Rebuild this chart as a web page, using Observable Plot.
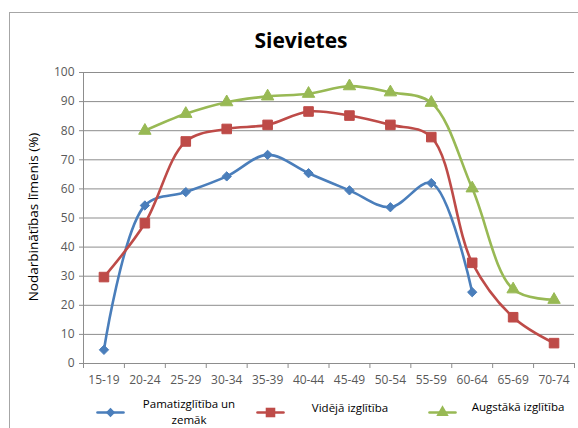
<!DOCTYPE html>
<html>
<head>
<meta charset="utf-8">
<script src="https://cdn.jsdelivr.net/npm/d3@7"></script>
<script src="https://cdn.jsdelivr.net/npm/@observablehq/plot@0.6"></script>
<style>
  html, body { margin: 0; padding: 0; background: #fff; }
  #wrap { position: relative; width: 578px; height: 428px; overflow: hidden; font-family: "Open Sans", sans-serif; }
  #frame { position: absolute; left: 9px; top: 12px; width: 600px; height: 500px; border-left: 1.5px solid #a6a6a6; border-top: 1.5px solid #a6a6a6; }
  #title { position: absolute; left: 0; width: 602px; top: 26px; text-align: center; font-weight: bold; font-size: 21px; color: #000; }
  #chart { position: absolute; left: 0; top: 0; }
  .leg { position: absolute; font-size: 11.5px; color: #000; text-align: center; line-height: 16px; }
  .sw { position: absolute; }
</style>
</head>
<body>
<div id="wrap">
  <div id="frame"></div>
  <div id="chart"></div>
  <div id="title">Sievietes</div>
</div>
<script>
const ageGroups = ["15-19","20-24","25-29","30-34","35-39","40-44","45-49","50-54","55-59","60-64","65-69","70-74"];
const seriesNames = ["Pamatizglītība un zemāk", "Vidējā izglītība", "Augstākā izglītība"];
const basicEdu     = [4.7, 54.3, 58.9, 64.3, 71.7, 65.4, 59.5, 53.7, 62.0, 24.5, null, null];
const secondaryEdu = [29.7, 48.2, 76.3, 80.6, 82.0, 86.6, 85.2, 82.0, 77.8, 34.6, 15.9, 7.0];
const higherEdu    = [null, 80.0, 85.8, 89.8, 91.8, 92.7, 95.3, 93.2, 89.6, 60.2, 25.5, 21.9];
const yTicks = [0, 10, 20, 30, 40, 50, 60, 70, 80, 90, 100];
const colors = ["#4a7ebb", "#be4b48", "#98b954"];
const symbols = ["diamond2", "square", "triangle"];
const radii = [4.2, 5.4, 4.6];

const seriesValues = [basicEdu, secondaryEdu, higherEdu];
const rows = [];
seriesValues.forEach((vals, s) => vals.forEach((v, i) => {
  if (v != null) rows.push({series: seriesNames[s], i, age: ageGroups[i], value: v});
}));
const idx = ageGroups.map((_, i) => i);
const bounds = d3.range(-0.5, ageGroups.length, 1);

const marks = [
  Plot.ruleY(yTicks.filter(d => d > 0), {stroke: "#8d8d8d", strokeWidth: 1}),
  Plot.ruleY([0], {stroke: "#8d8d8d", strokeWidth: 1}),
  Plot.ruleX([-0.5], {stroke: "#8d8d8d", strokeWidth: 1}),
  Plot.axisY({ticks: yTicks, tickSize: 4, tickPadding: 5, fontSize: 12, color: "#595959", stroke: "#8d8d8d", label: null}),
  Plot.axisX({ticks: idx, tickFormat: i => ageGroups[i], tickSize: 0, tickPadding: 12, fontSize: 12, color: "#595959", label: null}),
  Plot.axisX({ticks: bounds, tickFormat: () => "", tickSize: 5, stroke: "#8d8d8d", label: null}),
];
seriesNames.forEach((name, s) => {
  const data = rows.filter(r => r.series === name);
  marks.push(Plot.line(data, {x: "i", y: "value", stroke: colors[s], strokeWidth: 2.6, curve: "catmull-rom"}));
  marks.push(Plot.dot(data, {x: "i", y: "value", fill: colors[s], stroke: colors[s], strokeWidth: 1, symbol: () => symbols[s], r: radii[s]}));
});

const chart = Plot.plot({
  width: 578,
  height: 428,
  marginLeft: 83,
  marginRight: 4,
  marginTop: 72,
  marginBottom: 65,
  style: {fontFamily: "Open Sans, sans-serif", background: "transparent", overflow: "visible"},
  x: {type: "linear", domain: [-0.5, ageGroups.length - 0.5], axis: null},
  y: {domain: [0, 100], axis: null},
  marks
});
document.getElementById("chart").appendChild(chart);

// y axis title
const ns = "http://www.w3.org/2000/svg";
const yl = document.createElementNS(ns, "text");
yl.setAttribute("transform", "translate(38,217) rotate(-90)");
yl.setAttribute("text-anchor", "middle");
yl.setAttribute("font-size", "13.5");
yl.setAttribute("fill", "#000");
yl.textContent = "Nodarbinātības līmenis (%)";
chart.appendChild(yl);

// legend
const wrap = document.getElementById("wrap");
const legendItems = [
  {sx: 97, tx: 141, tw: 96, ty: 396, text: "Pamatizglītība un<br>zemāk"},
  {sx: 257, tx: 300, tw: 100, ty: 400, text: "Vidējā izglītība"},
  {sx: 429, tx: 466, tw: 104, ty: 399, text: "Augstākā izglītība"}
];
legendItems.forEach((it, s) => {
  const sw = Plot.plot({
    width: 26, height: 14, margin: 0,
    x: {domain: [0, 1], axis: null}, y: {domain: [0, 1], axis: null},
    style: {background: "transparent", overflow: "visible"},
    marks: [
      Plot.line([{x: 0, y: 0.5}, {x: 1, y: 0.5}], {x: "x", y: "y", stroke: colors[s], strokeWidth: 2.6}),
      Plot.dot([{x: 0.5, y: 0.5}], {x: "x", y: "y", fill: colors[s], symbol: () => symbols[s], r: radii[s]})
    ]
  });
  sw.classList.add("sw");
  sw.style.left = it.sx + "px";
  sw.style.top = "405px";
  wrap.appendChild(sw);
  const t = document.createElement("div");
  t.className = "leg";
  t.style.left = it.tx + "px";
  t.style.width = it.tw + "px";
  t.style.top = it.ty + "px";
  t.innerHTML = it.text;
  wrap.appendChild(t);
});
</script>
</body>
</html>
